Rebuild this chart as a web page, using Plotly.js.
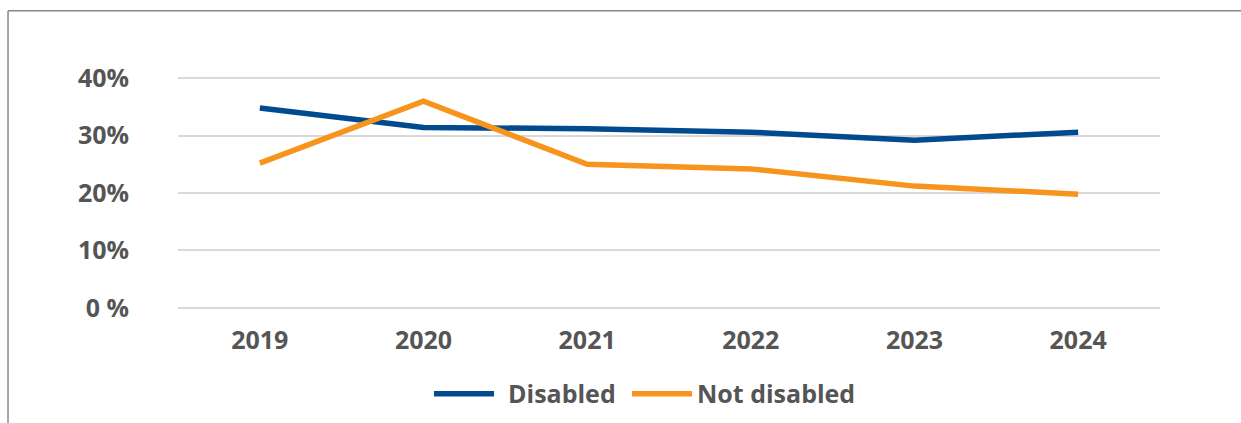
<!DOCTYPE html>
<html>
<head>
<meta charset="utf-8">
<script src="https://cdn.plot.ly/plotly-3.0.1.min.js"></script>
<style>
html,body{margin:0;padding:0;background:#fff;}
#chart{width:1241px;height:423px;}
#chart text.legendtext{transform:translateX(9px) !important;}
#chart .scrollbox{clip-path:none !important;}
</style>
</head>
<body>
<div id="chart"></div>
<script>
const years = ["2019", "2020", "2021", "2022", "2023", "2024"];
const disabled = [34.8, 31.4, 31.2, 30.6, 29.2, 30.6];
const notDisabled = [25.2, 36.0, 25.0, 24.2, 21.2, 19.8];
const yTicks = [0, 10, 20, 30, 40];
const yTickLabels = ["0 %", "10%", "20%", "30%", "40%"];

const FONT = "'Open Sans', 'DejaVu Sans', sans-serif";
const TXT = "#555555";

const traces = [
  {x: years, y: disabled, name: "Disabled", type: "scatter", mode: "lines",
   line: {color: "#004a8f", width: 5.5}, legend: "legend"},
  {x: years, y: notDisabled, name: "Not disabled", type: "scatter", mode: "lines",
   line: {color: "#f7941d", width: 5.5}, legend: "legend2"}
];

function legendAt(xPx) {
  return {orientation: "h", xref: "container", yref: "container", x: xPx / 1241, xanchor: "left",
    y: 0.0686, yanchor: "middle", bgcolor: "rgba(0,0,0,0)",
    font: {family: FONT, size: 25, color: TXT, weight: 700}, itemwidth: 60};
}

const layout = {
  width: 1241, height: 423,
  margin: {l: 178, r: 81, t: 76.5, b: 114.2},
  paper_bgcolor: "#ffffff", plot_bgcolor: "#ffffff",
  font: {family: FONT, color: TXT, size: 22, weight: 700},
  showlegend: true,
  legend: legendAt(429),
  legend2: legendAt(627),
  xaxis: {type: "category", range: [-0.5, 5.5], showgrid: false, zeroline: false, showline: false,
    ticks: "", tickfont: {family: FONT, size: 25, color: TXT, weight: 700}, ticklabelstandoff: 14},
  yaxis: {range: [-0.2, 40.2], tickvals: yTicks, ticktext: yTickLabels, showgrid: true,
    gridcolor: "#d9d9d9", gridwidth: 2, zeroline: false, showline: false, ticks: "",
    tickfont: {family: FONT, size: 25, color: TXT, weight: 700}, ticklabelstandoff: 48},
  shapes: [
    {type: "line", xref: "paper", yref: "paper", x0: -0.1731, x1: 1.2, y0: 1.2854, y1: 1.2854,
     line: {color: "#7f8a96", width: 1.5}},
    {type: "line", xref: "paper", yref: "paper", x0: -0.1731, x1: -0.1731, y0: 1.2854, y1: -0.6,
     line: {color: "#7f8a96", width: 1.5}}
  ]
};

Plotly.newPlot("chart", traces, layout, {displayModeBar: false, staticPlot: true});
</script>
</body>
</html>
